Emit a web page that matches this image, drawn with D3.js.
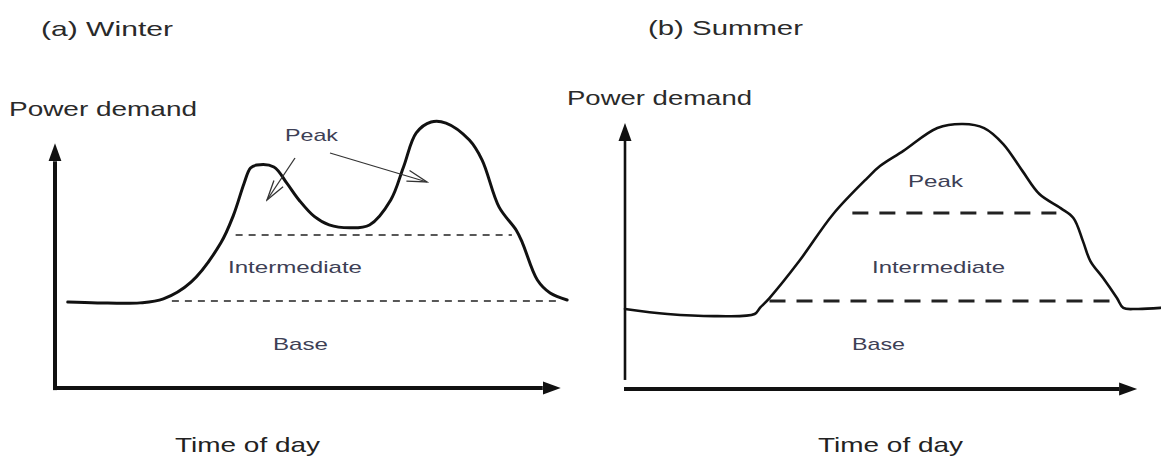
<!DOCTYPE html>
<html>
<head>
<meta charset="utf-8">
<script src="https://cdn.jsdelivr.net/npm/d3@7"></script>
<style>
  body { margin: 0; background: #fff; }
  svg { display: block; font-family: "Liberation Sans", Arial, sans-serif; }
</style>
</head>
<body>
<svg id="chart" width="1161" height="457"></svg>
<script>
'use strict';

// hour of day vs relative demand (0-100)
const winterHours  = [0.6, 2.0, 4.0, 5.1, 6.4, 7.8, 8.4, 8.9, 9.2, 9.5, 10.3, 10.9, 11.5, 12.2, 12.9, 13.9, 14.8, 15.8, 16.4, 17.0, 17.7, 18.4, 19.5, 20.1, 20.9, 21.7, 22.0, 22.7, 23.3, 24.1];
const winterDemand = [32.3, 32.0, 32.0, 33.5, 39.8, 54.5, 65.0, 77.0, 82.7, 83.8, 83.1, 77.1, 70.5, 64.5, 61.3, 60.2, 61.3, 70.7, 83.1, 95.9, 100, 99.6, 93.2, 85.7, 68.0, 59.4, 54.5, 40.6, 35.7, 33.1];
const summerHours  = [0.0, 2.0, 4.3, 6.1, 6.35, 6.8, 8.2, 9.8, 11.4, 12.0, 13.1, 14.7, 15.9, 16.9, 17.8, 18.7, 19.5, 20.5, 21.1, 21.55, 21.9, 22.5, 23.15, 23.45, 24.1, 25.2];
const summerDemand = [30.1, 28.2, 27.4, 28.2, 30.5, 34.2, 48.1, 65.8, 79.3, 83.8, 89.5, 98.1, 99.6, 98.1, 92.1, 82.0, 73.3, 68.0, 64.3, 55.6, 48.1, 41.7, 34.2, 30.5, 30.1, 30.5];

// dashed split levels: [demand, from hour, to hour]
const winterLevels = [[57.5, 8.5, 21.5], [32.7, 5.5, 23.8]];
const summerLevels = [[66.2, 10.7, 20.3], [33.1, 6.8, 23.0]];

const bandNames = ['Peak', 'Intermediate', 'Base'];
const panelTitles = ['(a) Winter', '(b) Summer'];
const yTitle = 'Power demand';
const xTitle = 'Time of day';

const svg = d3.select('#chart');
const defs = svg.append('defs');

defs.append('marker')
    .attr('id', 'axisHead')
    .attr('viewBox', '0 -8 20 16')
    .attr('markerWidth', 20).attr('markerHeight', 16)
    .attr('markerUnits', 'userSpaceOnUse')
    .attr('refX', 0).attr('refY', 0)
    .attr('orient', 'auto')
    .append('path')
    .attr('d', 'M0,-6.5L18,0L0,6.5Z')
    .attr('fill', '#111');

defs.append('marker')
    .attr('id', 'openHead')
    .attr('viewBox', '-24 -9 26 18')
    .attr('markerWidth', 26).attr('markerHeight', 18)
    .attr('markerUnits', 'userSpaceOnUse')
    .attr('refX', 0).attr('refY', 0)
    .attr('orient', 'auto')
    .append('path')
    .attr('d', 'M-20,-6L0,0L-20,5')
    .attr('fill', 'none')
    .attr('stroke', '#333')
    .attr('stroke-width', 1.3);

// layout for each panel: scale ranges and text boxes [x, baseline, width]
const panels = [
    {
        title: panelTitles[0], hours: winterHours, demand: winterDemand, levels: winterLevels,
        xRange: [55, 565], yRange: [388, 122], xTip: 23.8, yTip: 92, yFrom: -0.8,
        yAxisWidth: 4, curveWidth: 3, dash: '7,6', dashWidth: 1.6,
        titleBox: [41, 36, 132], yBox: [9, 116, 188], xBox: [175, 452, 145],
        bandBoxes: [[285, 141, 53], [228, 273, 134], [273, 350, 55]],
        pointers: [[[295, 158], [267, 200]], [[330, 153], [427, 182]]]
    },
    {
        title: panelTitles[1], hours: summerHours, demand: summerDemand, levels: summerLevels,
        xRange: [625, 1135], yRange: [389, 123], xTip: 24.1, yTip: 100, yFrom: 3.4,
        yAxisWidth: 2.6, curveWidth: 2.6, dash: '16,11', dashWidth: 3,
        titleBox: [648, 35, 155], yBox: [567, 105, 185], xBox: [818, 452, 145],
        bandBoxes: [[908, 187, 55], [872, 273, 133], [852, 350, 53]],
        pointers: []
    }
];

let addText = (g, str, box, size, color) => {
    g.append('text')
        .attr('x', box[0])
        .attr('y', box[1])
        .attr('textLength', box[2])
        .attr('lengthAdjust', 'spacingAndGlyphs')
        .attr('font-size', size)
        .attr('fill', color)
        .text(str);
}

let drawPanel = (p) => {
    const g = svg.append('g');
    const x = d3.scaleLinear().domain([0, 24]).range(p.xRange);
    const y = d3.scaleLinear().domain([0, 100]).range(p.yRange);
    const head = 18;

    // axes with arrow heads
    g.append('line')
        .attr('x1', x(0)).attr('y1', y(p.yFrom))
        .attr('x2', x(0)).attr('y2', y(p.yTip) + head)
        .attr('stroke', '#111').attr('stroke-width', p.yAxisWidth)
        .attr('marker-end', 'url(#axisHead)');
    g.append('line')
        .attr('x1', x(0) - 1).attr('y1', y(0))
        .attr('x2', x(p.xTip) - head).attr('y2', y(0))
        .attr('stroke', '#111').attr('stroke-width', 4)
        .attr('marker-end', 'url(#axisHead)');

    // dashed band limits
    g.selectAll('.level')
        .data(p.levels)
        .enter().append('line')
        .attr('x1', d => x(d[1])).attr('x2', d => x(d[2]))
        .attr('y1', d => y(d[0])).attr('y2', d => y(d[0]))
        .attr('stroke', '#222')
        .attr('stroke-width', p.dashWidth)
        .attr('stroke-dasharray', p.dash);

    // demand curve
    const line = d3.line()
        .x(i => x(p.hours[i]))
        .y(i => y(p.demand[i]))
        .curve(d3.curveCatmullRom.alpha(0.5));
    g.append('path')
        .attr('d', line(d3.range(p.hours.length)))
        .attr('fill', 'none')
        .attr('stroke', '#111')
        .attr('stroke-width', p.curveWidth)
        .attr('stroke-linejoin', 'round')
        .attr('stroke-linecap', 'round');

    // pointers from the Peak label
    g.selectAll('.pointer')
        .data(p.pointers)
        .enter().append('line')
        .attr('x1', d => d[0][0]).attr('y1', d => d[0][1])
        .attr('x2', d => d[1][0]).attr('y2', d => d[1][1])
        .attr('stroke', '#333')
        .attr('stroke-width', 1.3)
        .attr('marker-end', 'url(#openHead)');

    addText(g, p.title, p.titleBox, 21, '#2a2a2a');
    addText(g, yTitle, p.yBox, 21, '#2a2a2a');
    addText(g, xTitle, p.xBox, 21, '#222');
    bandNames.forEach((name, i) => addText(g, name, p.bandBoxes[i], 17, '#3d4055'));
}

panels.forEach(drawPanel);
</script>
</body>
</html>
